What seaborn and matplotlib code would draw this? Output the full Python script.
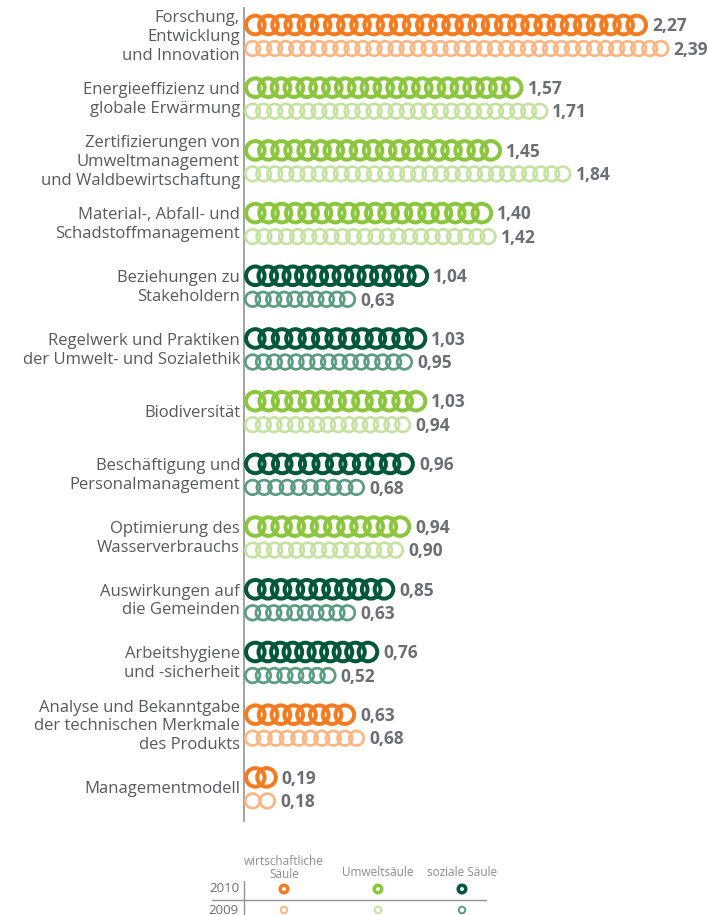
import numpy as np
import pandas as pd
import matplotlib
matplotlib.use("Agg")
import matplotlib.pyplot as plt
import seaborn as sns
from matplotlib.lines import Line2D

# ---------------- data ----------------
categories = [
    "Forschung,\nEntwicklung\nund Innovation",
    "Energieeffizienz und\nglobale Erwärmung",
    "Zertifizierungen von\nUmweltmanagement\nund Waldbewirtschaftung",
    "Material-, Abfall- und\nSchadstoffmanagement",
    "Beziehungen zu\nStakeholdern",
    "Regelwerk und Praktiken\nder Umwelt- und Sozialethik",
    "Biodiversität",
    "Beschäftigung und\nPersonalmanagement",
    "Optimierung des\nWasserverbrauchs",
    "Auswirkungen auf\ndie Gemeinden",
    "Arbeitshygiene\nund -sicherheit",
    "Analyse und Bekanntgabe\nder technischen Merkmale\ndes Produkts",
    "Managementmodell",
]
values_2010 = [2.27, 1.57, 1.45, 1.40, 1.04, 1.03, 1.03, 0.96, 0.94, 0.85, 0.76, 0.63, 0.19]
values_2009 = [2.39, 1.71, 1.84, 1.42, 0.63, 0.95, 0.94, 0.68, 0.90, 0.63, 0.52, 0.68, 0.18]
pillar = ["wirt", "umwelt", "umwelt", "umwelt", "sozial", "sozial", "umwelt",
          "sozial", "umwelt", "sozial", "sozial", "wirt", "wirt"]
pillar_keys = ["wirt", "umwelt", "sozial"]
pillar_names = ["wirtschaftliche\nSäule", "Umweltsäule", "soziale Säule"]
years = ["2010", "2009"]

# ---------------- style ----------------
colors = {
    "wirt": ("#F47B20", "#FBB683"),
    "umwelt": ("#8CC63E", "#C6E2A2"),
    "sozial": ("#00573A", "#5C9C82"),
}
TEXT = "#58595b"
VAL = "#6d6e71"

sns.set_theme(style="white")
plt.rcParams["font.family"] = ["Open Sans", "DejaVu Sans"]

W, H = 707, 915
fig = plt.figure(figsize=(W / 100, H / 100), dpi=100)


def rect(l, t, r, b):
    return [l / W, 1 - b / H, (r - l) / W, (b - t) / H]


ax_left, ax_top, ax_right, ax_bottom = 244, 8, 707, 821
ax = fig.add_axes(rect(ax_left, ax_top, ax_right, ax_bottom))
PXU = 178.0  # pixels per unit
ax.set_xlim(0, (ax_right - ax_left) / PXU)
ROW = 62.7
first_c = 25
ax.set_ylim((ax_bottom - first_c) / ROW, -(first_c - ax_top) / ROW)
OFF = 23.5 / ROW

# ring geometry in px: (path diameter, linewidth, spacing)
geom = {0: (18.6, 4.0, 13.0), 1: (14.6, 2.7, 11.0)}

for i, cat in enumerate(categories):
    for k, vals in enumerate([values_2010, values_2009]):
        v = vals[i]
        d, lw, sp = geom[k]
        half = (d + lw) / 2
        n = max(2, int(round((v * PXU - 2 * half) / sp)) + 1)
        xs = np.linspace(half / PXU, v - half / PXU, n)
        y = i + k * OFF
        df = pd.DataFrame({"x": xs, "y": np.full(n, y)})
        c = colors[pillar[i]][k]
        sns.scatterplot(data=df, x="x", y="y", ax=ax, marker="o",
                        s=(d * 0.72) ** 2, color=c, facecolor="none",
                        edgecolor=c, linewidth=lw * 0.72, zorder=3,
                        legend=False)
        ax.text(v + 4 / PXU, y + 0.02, f"{v:.2f}".replace(".", ","),
                ha="left", va="center", fontsize=12.5, fontweight="bold",
                color=VAL, clip_on=False)
    ax.text(-4 / PXU, i + OFF / 2, cat, ha="right", va="center",
            multialignment="right", fontsize=12.0, color=TEXT,
            linespacing=1.24, clip_on=False)

ax.set_xlabel("")
ax.set_ylabel("")
ax.set_xticks([])
ax.set_yticks([])
for s in ["top", "right", "bottom"]:
    ax.spines[s].set_visible(False)
ax.spines["left"].set_color("#939393")
ax.spines["left"].set_linewidth(1.2)

# ---------------- legend ----------------
lax = fig.add_axes([0, 0, 1, 1], zorder=-1)
lax.set_xlim(0, W)
lax.set_ylim(H, 0)
lax.axis("off")
leg_x = [284, 378, 462]
leg_head_y = [868, 873, 873]
for name, x, hy in zip(pillar_names, leg_x, leg_head_y):
    lax.text(x, hy, name, ha="center", va="center", fontsize=8.5,
             color="#8c8c8c", linespacing=0.95)
row_y = [889, 910]
for yr, yy in zip(years, row_y):
    lax.text(239, yy, yr, ha="right", va="center", fontsize=9.5, color=VAL)
lax.add_line(Line2D([244, 244], [881, 915], color="#939393", lw=1))
lax.add_line(Line2D([212, 486], [899.5, 899.5], color="#939393", lw=1))
leg_geom = {0: (7.5, 3.5), 1: (6.5, 2.0)}
for k, yy in enumerate(row_y):
    d, lw = leg_geom[k]
    for key, x in zip(pillar_keys, leg_x):
        c = colors[key][k]
        sns.scatterplot(x=[x], y=[yy], ax=lax, marker="o", s=(d * 0.72) ** 2,
                        color=c, facecolor="none", edgecolor=c,
                        linewidth=lw * 0.72, legend=False)
lax.set_xlabel("")
lax.set_ylabel("")

fig.savefig("out.png", dpi=100)
